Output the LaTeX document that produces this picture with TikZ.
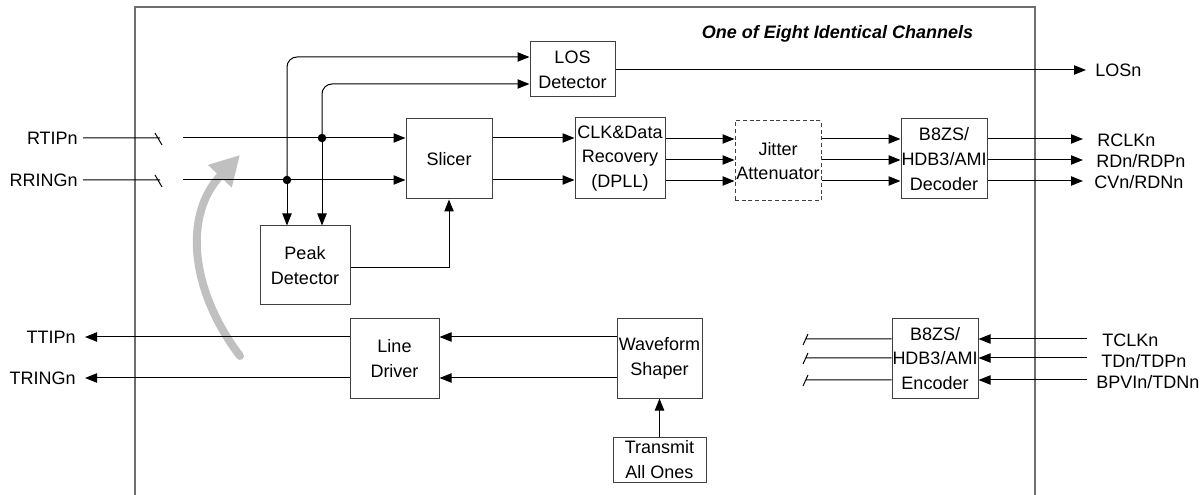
\documentclass[tikz,border=0pt]{standalone}
\usepackage{fontspec}
\setmainfont{Liberation Sans}
\usetikzlibrary{arrows.meta}
\newdimen\pxu \pxu=0.75pt
\newcommand\fsz{\fontsize{13.5}{18.5}\selectfont}
\definecolor{garr}{RGB}{192,192,192}
\definecolor{frm}{RGB}{110,110,110}
\begin{document}
\begin{tikzpicture}[x=0.75pt,y=-0.75pt,
  box/.style={draw=black!75, line width=0.75pt, inner sep=0pt, align=center, font=\fsz},
  arr/.style={-{Triangle[length=9pt,width=7pt]}, line width=0.75pt},
  ln/.style={line width=0.75pt},
  lbl/.style={inner sep=0pt, font=\fsz},
  dot/.style={circle, fill=black, inner sep=0pt, minimum size=8.5\pxu}]
\useasboundingbox (0,0) rectangle (1200,495);
% frame
\draw[frm, line width=1pt] (135,500) |- (1035,7) -- (1035,500);
\node[lbl, font=\fsz\bfseries\itshape] (title) at (837.5,34) {One of Eight Identical Channels};
% y levels
\coordinate (yL1) at (0,57);
\coordinate (yL2) at (0,84);
\coordinate (yR1) at (0,138);
\coordinate (yR2) at (0,180);
\coordinate (yS1) at (0,139);
\coordinate (yS2) at (0,160);
\coordinate (yS3) at (0,181);
\coordinate (yP) at (0,268);
\coordinate (yT1) at (0,337);
\coordinate (yT2) at (0,378);
\coordinate (yE1) at (0,339);
\coordinate (yE2) at (0,358);
\coordinate (yE3) at (0,380);
\coordinate (gapA) at (160,0);
\coordinate (gapB) at (183,0);
\coordinate (eL) at (806,0);
\coordinate (ein) at (1087,0);
% boxes
\node[box, minimum width=85\pxu, minimum height=55\pxu] (los) at (572.5,69.5) {LOS\\Detector};
\node[box, minimum width=86\pxu, minimum height=80\pxu] (slicer) at (449,159) {Slicer};
\node[box, minimum width=90\pxu, minimum height=81\pxu] (cdr) at (620,158.5) {CLK\&Data\\Recovery\\(DPLL)};
\node[box, dash pattern=on 3pt off 2pt, minimum width=86\pxu, minimum height=80\pxu] (jit) at (778,161) {Jitter\\Attenuator};
\node[box, minimum width=86\pxu, minimum height=80\pxu] (dec) at (944,159) {B8ZS/\\HDB3/AMI\\Decoder};
\node[box, minimum width=90\pxu, minimum height=79\pxu] (pd) at (305,265.5) {Peak\\Detector};
\node[box, minimum width=89\pxu, minimum height=79\pxu] (ld) at (394.5,358.5) {Line\\Driver};
\node[box, minimum width=85\pxu, minimum height=79\pxu] (ws) at (659.5,358.5) {Waveform\\Shaper};
\node[box, minimum width=93\pxu, minimum height=45\pxu] (tao) at (659.5,459.5) {Transmit\\All Ones};
\node[box, minimum width=86\pxu, minimum height=79\pxu] (enc) at (935,358.5) {B8ZS/\\HDB3/AMI\\Encoder};
% labels
\node[lbl, anchor=east] (rtip) at (78,138) {RTIPn};
\node[lbl, anchor=east] (rring) at (78,180) {RRINGn};
\node[lbl, anchor=east] (ttip) at (76,337) {TTIPn};
\node[lbl, anchor=east] (tring) at (76,378) {TRINGn};
\node[lbl, anchor=west] (losn) at (1095,70) {LOSn};
\node[lbl, anchor=west] (rclk) at (1097,140) {RCLKn};
\node[lbl, anchor=west] (rdn) at (1096,161) {RDn/RDPn};
\node[lbl, anchor=west] (cvn) at (1094,182) {CVn/RDNn};
\node[lbl, anchor=west] (tclk) at (1102,340) {TCLKn};
\node[lbl, anchor=west] (tdn) at (1101,361) {TDn/TDPn};
\node[lbl, anchor=west] (bpv) at (1096,382) {BPVIn/TDNn};
% gray arrow
\draw[garr, line width=6pt, line cap=round, -{Triangle[length=22pt,width=23pt]}] (240,356) .. controls (190,290) and (183,215) .. (240,155);
% receive inputs
\draw[ln] ([xshift=5\pxu]rtip.east) -- (gapA |- yR1) ++(-5,-5) -- ++(7,12);
\draw[ln] ([xshift=5\pxu]rring.east) -- (gapA |- yR2) ++(-5,-5) -- ++(7,12);
\draw[arr] (gapB |- yR1) -- (slicer.west |- yR1);
\draw[arr] (gapB |- yR2) -- (slicer.west |- yR2);
\node[dot] (dA) at (322,138) {};
\node[dot] (dB) at (287,180) {};
\draw[arr, rounded corners=7.5pt] (dB.center) |- (los.west |- yL1);
\draw[arr, rounded corners=7.5pt] (dA.center) |- (los.west |- yL2);
\draw[arr] (dB.center) -- (dB |- pd.north);
\draw[arr] (dA.center) -- (dA |- pd.north);
\draw[arr] (pd.east |- yP) -| (slicer.south);
% data path
\draw[arr] (slicer.east |- yR1) -- (cdr.west |- yR1);
\draw[arr] (slicer.east |- yR2) -- (cdr.west |- yR2);
\foreach \yy in {yS1,yS2,yS3}{
  \draw[arr] (cdr.east |- \yy) -- (jit.west |- \yy);
  \draw[arr] (jit.east |- \yy) -- (dec.west |- \yy);
}
\draw[arr, shorten >=14\pxu] (dec.east |- yS1) -- (rclk.west |- yS1);
\draw[arr, shorten >=13\pxu] (dec.east |- yS2) -- (rdn.west |- yS2);
\draw[arr, shorten >=11\pxu] (dec.east |- yS3) -- (cvn.west |- yS3);
\draw[arr, shorten >=9\pxu] (los.east |- losn.west) -- (losn.west);
% transmit
\draw[arr] (ws.west |- yT1) -- (ld.east |- yT1);
\draw[arr] (ws.west |- yT2) -- (ld.east |- yT2);
\draw[arr, shorten >=9\pxu] (ld.west |- yT1) -- (ttip.east |- yT1);
\draw[arr, shorten >=9\pxu] (ld.west |- yT2) -- (tring.east |- yT2);
\draw[arr] (tao.north) -- (ws.south);
\draw[arr] (ein |- yE1) -- (enc.east |- yE1);
\draw[arr] (ein |- yE2) -- (enc.east |- yE2);
\draw[arr] (ein |- yE3) -- (enc.east |- yE3);
\foreach \yy in {yE1,yE2,yE3}{
  \draw[ln] (enc.west |- \yy) -- (eL |- \yy) ++(-3,6) -- ++(5,-11);
}
\end{tikzpicture}
\end{document}
